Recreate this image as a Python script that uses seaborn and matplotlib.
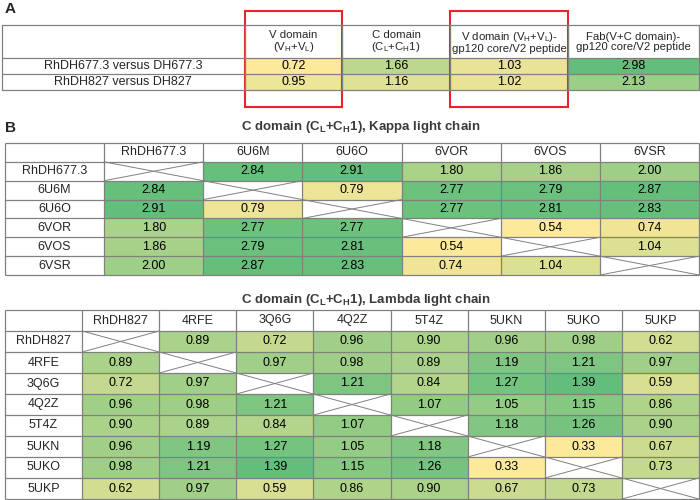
import numpy as np
import pandas as pd
import matplotlib
matplotlib.use("Agg")
import matplotlib.pyplot as plt
from matplotlib.colors import LinearSegmentedColormap
from matplotlib.patches import Rectangle
import seaborn as sns

sns.set_style("white")
plt.rcParams["font.family"] = ["Liberation Sans", "DejaVu Sans"]
plt.rcParams["mathtext.fontset"] = "custom"
plt.rcParams["mathtext.rm"] = "Liberation Sans"
plt.rcParams["mathtext.bf"] = "Liberation Sans:bold"

# ---- data ----
a_rows = ["RhDH677.3 versus DH677.3", "RhDH827 versus DH827"]
a_cols = [r"V domain" "\n" r"(V$_\mathregular{H}$+V$_\mathregular{L}$)",
          r"C domain" "\n" r"(C$_\mathregular{L}$+C$_\mathregular{H}$1)",
          r"V domain (V$_\mathregular{H}$+V$_\mathregular{L}$)-" "\n" "gp120 core/V2 peptide",
          "Fab(V+C domain)-\ngp120 core/V2 peptide"]
a_vdomain = [0.72, 0.95]
a_cdomain = [1.66, 1.16]
a_v_gp120 = [1.03, 1.02]
a_fab_gp120 = [2.98, 2.13]

kappa_labels = ["RhDH677.3", "6U6M", "6U6O", "6VOR", "6VOS", "6VSR"]
kappa_vals = [
    [np.nan, 2.84, 2.91, 1.80, 1.86, 2.00],
    [2.84, np.nan, 0.79, 2.77, 2.79, 2.87],
    [2.91, 0.79, np.nan, 2.77, 2.81, 2.83],
    [1.80, 2.77, 2.77, np.nan, 0.54, 0.74],
    [1.86, 2.79, 2.81, 0.54, np.nan, 1.04],
    [2.00, 2.87, 2.83, 0.74, 1.04, np.nan],
]

lambda_labels = ["RhDH827", "4RFE", "3Q6G", "4Q2Z", "5T4Z", "5UKN", "5UKO", "5UKP"]
lambda_vals = [
    [np.nan, 0.89, 0.72, 0.96, 0.90, 0.96, 0.98, 0.62],
    [0.89, np.nan, 0.97, 0.98, 0.89, 1.19, 1.21, 0.97],
    [0.72, 0.97, np.nan, 1.21, 0.84, 1.27, 1.39, 0.59],
    [0.96, 0.98, 1.21, np.nan, 1.07, 1.05, 1.15, 0.86],
    [0.90, 0.89, 0.84, 1.07, np.nan, 1.18, 1.26, 0.90],
    [0.96, 1.19, 1.27, 1.05, 1.18, np.nan, 0.33, 0.67],
    [0.98, 1.21, 1.39, 1.15, 1.26, 0.33, np.nan, 0.73],
    [0.62, 0.97, 0.59, 0.86, 0.90, 0.67, 0.73, np.nan],
]

# ---- style ----
W, H = 700, 500
FS = 9
GRID = "#808080"
cmap = LinearSegmentedColormap.from_list("yg", ["#FDE99A", "#63BE7B"])

fig = plt.figure(figsize=(W / 100, H / 100), dpi=100)


def px_rect(x0, y0, x1, y1):
    return [x0 / W, 1 - y1 / H, (x1 - x0) / W, (y1 - y0) / H]


def matrix_table(rect, labels, vals):
    ax = fig.add_axes(px_rect(*rect))
    df = pd.DataFrame(vals, index=labels, columns=labels)
    n = len(labels)
    sns.heatmap(df, mask=df.isna(), cmap=cmap, vmin=np.nanmin(df.values),
                vmax=np.nanmax(df.values), annot=True, fmt=".2f", cbar=False,
                ax=ax, annot_kws=dict(size=FS, color="black"))
    ax.set_xlim(-1, n)
    ax.set_ylim(n, -1)
    ax.axis("off")
    for i, lab in enumerate(labels):
        ax.text(-0.5, i + 0.5, lab, ha="center", va="center", fontsize=FS)
        ax.text(i + 0.5, -0.5, lab, ha="center", va="center", fontsize=FS)
        ax.plot([i, i + 1], [i, i + 1], color=GRID, lw=0.7)
        ax.plot([i, i + 1], [i + 1, i], color=GRID, lw=0.7)
    ax.hlines(np.arange(-1, n + 1), -1, n, color=GRID, lw=0.9, clip_on=False)
    ax.vlines(np.arange(-1, n + 1), -1, n, color=GRID, lw=0.9, clip_on=False)
    return ax


# ---- panel A ----
a_edges = [245, 342, 450, 568, 699]
a_data = [a_vdomain, a_cdomain, a_v_gp120, a_fab_gp120]
a_min = min(min(c) for c in a_data)
a_max = max(max(c) for c in a_data)
for j, col in enumerate(a_data):
    ax = fig.add_axes(px_rect(a_edges[j], 58, a_edges[j + 1], 90))
    df = pd.DataFrame({"v": col}, index=a_rows)
    sns.heatmap(df, cmap=cmap, vmin=a_min, vmax=a_max, annot=True, fmt=".2f",
                cbar=False, ax=ax, annot_kws=dict(size=FS, color="black"))
    ax.axis("off")

# ---- panel B ----
matrix_table((5, 143, 699, 275), kappa_labels, kappa_vals)
matrix_table((5, 310, 699, 499), lambda_labels, lambda_vals)

# ---- overlay in pixel coordinates ----
ov = fig.add_axes([0, 0, 1, 1])
ov.set_xlim(0, W)
ov.set_ylim(H, 0)
ov.axis("off")

for y in [25, 58, 74, 90]:
    ov.plot([2, 699], [y, y], color=GRID, lw=0.9)
for x in [2] + a_edges:
    ov.plot([x, x], [25, 90], color=GRID, lw=0.9)
for j, lab in enumerate(a_cols):
    ov.text((a_edges[j] + a_edges[j + 1]) / 2, 42, lab, ha="center", va="center",
            fontsize=8.2, linespacing=1.0)
for i, lab in enumerate(a_rows):
    ov.text(123, 66 + 16 * i, lab, ha="center", va="center", fontsize=FS)

for x0, x1 in [(245, 342), (450, 568)]:
    ov.add_patch(Rectangle((x0, 11), x1 - x0, 96, fill=False, ec="#E8242B", lw=1.5))

ov.text(5, 9, "A", fontsize=11, fontweight="bold", va="center", ha="left")
ov.text(5, 128, "B", fontsize=11, fontweight="bold", va="center", ha="left")

ov.text(361, 127, r"C domain (C$_\mathbf{L}$+C$_\mathbf{H}$1), Kappa light chain",
        ha="center", va="center", fontsize=9.5, fontweight="bold", color="#3b3b3b")
ov.text(366, 300, r"C domain (C$_\mathbf{L}$+C$_\mathbf{H}$1), Lambda light chain",
        ha="center", va="center", fontsize=9.5, fontweight="bold", color="#3b3b3b")

fig.savefig("out.png", dpi=100)
